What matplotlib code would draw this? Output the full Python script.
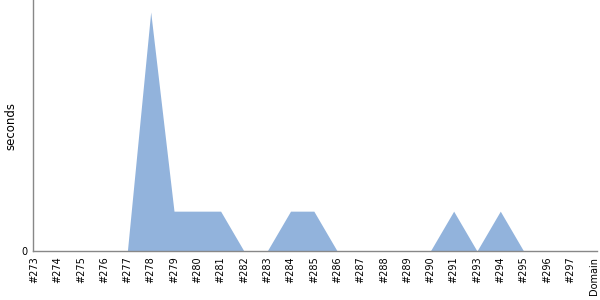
import numpy as np
import matplotlib.pyplot as plt

# builds shown on the x axis (#292 is absent in the source)
builds = ['#273', '#274', '#275', '#276', '#277', '#278', '#279', '#280', '#281',
          '#282', '#283', '#284', '#285', '#286', '#287', '#288', '#289', '#290',
          '#291', '#293', '#294', '#295', '#296', '#297']
seconds = [0, 0, 0, 0, 0, 6, 1, 1, 1, 0, 0, 1, 1, 0, 0, 0, 0, 0, 1, 0, 1, 0, 0, 0]
domain_label = 'Domain'

fig = plt.figure(figsize=(6, 3), dpi=100)
ax = fig.add_axes([33 / 600, 49 / 300, 564 / 600, 251 / 300])

x = np.arange(len(builds))
ax.fill_between(x, seconds, 0, color='#92b3dc', linewidth=0)

ax.set_xlim(-0.05, len(builds) + 0.15)
ax.set_ylim(0, 6.3)
ax.set_xticks(list(x) + [len(builds)])
ax.set_xticklabels(builds + [domain_label], rotation=90, fontsize=7)
ax.set_yticks([0])
ax.set_yticklabels(['0'], fontsize=7)
ax.tick_params(length=0, pad=4)
ax.set_ylabel('seconds', fontsize=8.5)
ax.yaxis.set_label_coords(-0.028, 0.5)

for side in ['top', 'right']:
    ax.spines[side].set_visible(False)
for side in ['left', 'bottom']:
    ax.spines[side].set_color('#888888')
    ax.spines[side].set_linewidth(1)

fig.savefig('out.png', dpi=100)
